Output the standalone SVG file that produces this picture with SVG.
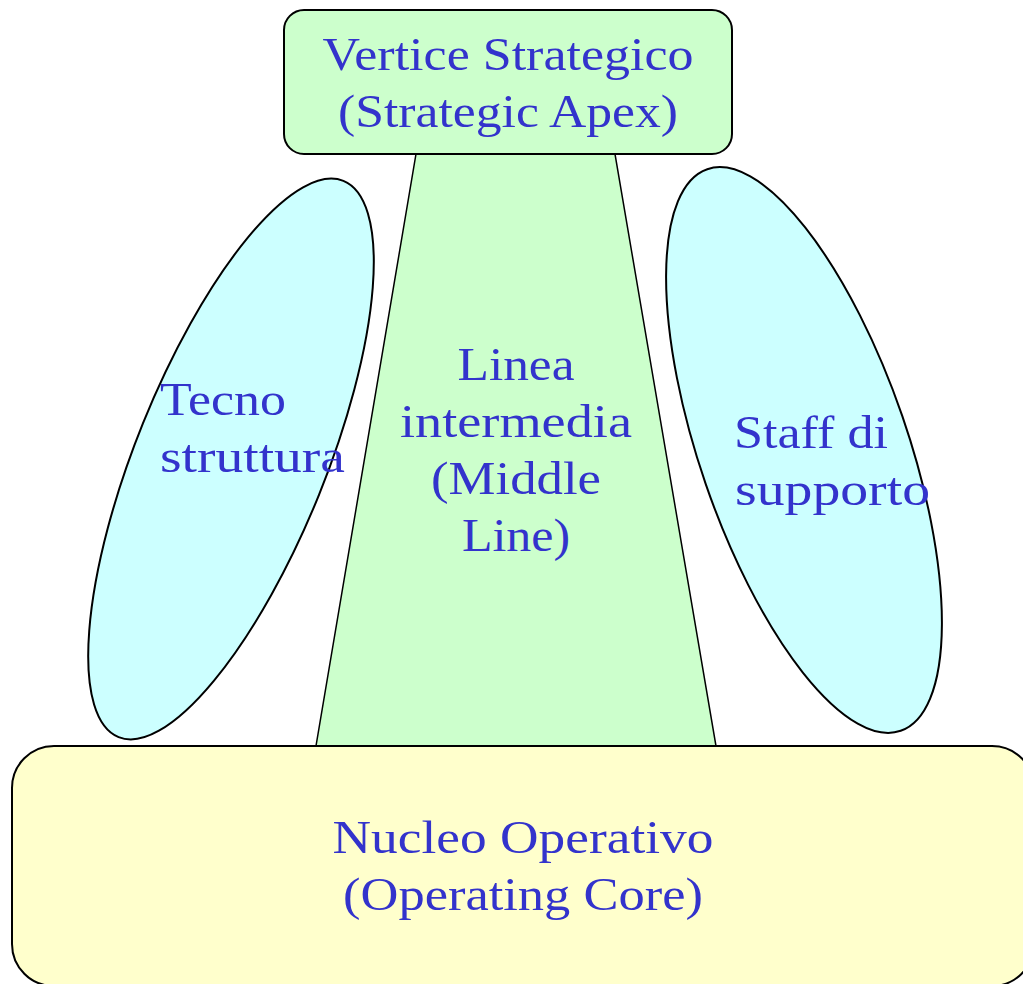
<svg xmlns="http://www.w3.org/2000/svg" width="1023" height="984" viewBox="0 0 1023 984">
  <style>
    .lbl { font-family: "Liberation Serif", "DejaVu Serif", serif; font-size: 46px; fill: #3333cc; }
    .mid { text-anchor: middle; }
    .edge { stroke: #000; stroke-width: 2; }
  </style>
  <rect width="1023" height="984" fill="#fff"/>

  <g id="middle-line">
    <polygon points="416,154 615,154 716,746 316,746" fill="#ccffcc" stroke="#000" stroke-width="1.5"/>
    <text class="lbl mid" x="516" y="380" textLength="117" lengthAdjust="spacingAndGlyphs">Linea</text>
    <text class="lbl mid" x="516" y="437" textLength="232" lengthAdjust="spacingAndGlyphs">intermedia</text>
    <text class="lbl mid" x="516" y="494" textLength="170" lengthAdjust="spacingAndGlyphs">(Middle</text>
    <text class="lbl mid" x="516" y="551" textLength="108" lengthAdjust="spacingAndGlyphs">Line)</text>
  </g>

  <g id="strategic-apex">
    <rect class="edge" x="284" y="10" width="448" height="144" rx="20" fill="#ccffcc"/>
    <text class="lbl mid" x="508" y="70" textLength="371" lengthAdjust="spacingAndGlyphs">Vertice Strategico</text>
    <text class="lbl mid" x="508" y="127" textLength="340" lengthAdjust="spacingAndGlyphs">(Strategic Apex)</text>
  </g>

  <g id="technostructure">
    <ellipse class="edge" cx="231" cy="459" rx="95" ry="300" transform="rotate(22 231 459)" fill="#ccffff"/>
    <text class="lbl" x="160" y="415" textLength="126" lengthAdjust="spacingAndGlyphs">Tecno</text>
    <text class="lbl" x="160" y="472" textLength="185" lengthAdjust="spacingAndGlyphs">struttura</text>
  </g>

  <g id="support-staff">
    <ellipse class="edge" cx="804" cy="450" rx="104" ry="297" transform="rotate(-19 804 450)" fill="#ccffff"/>
    <text class="lbl" x="734" y="448" textLength="154" lengthAdjust="spacingAndGlyphs">Staff di</text>
    <text class="lbl" x="735" y="505" textLength="195" lengthAdjust="spacingAndGlyphs">supporto</text>
  </g>

  <g id="operating-core">
    <rect class="edge" x="12" y="746" width="1022" height="240" rx="42" fill="#ffffcc"/>
    <text class="lbl mid" x="523" y="853" font-size="50" textLength="381" lengthAdjust="spacingAndGlyphs">Nucleo Operativo</text>
    <text class="lbl mid" x="523" y="910" font-size="50" textLength="360" lengthAdjust="spacingAndGlyphs">(Operating Core)</text>
  </g>

  <g id="connectors"/>
</svg>
